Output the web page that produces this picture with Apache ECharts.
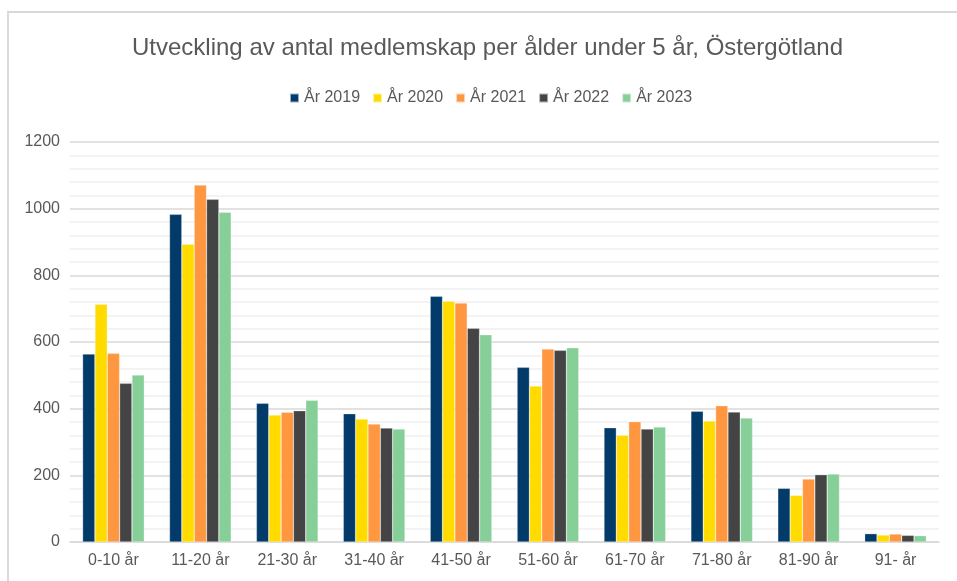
<!DOCTYPE html>
<html>
<head>
<meta charset="utf-8">
<script src="https://cdn.jsdelivr.net/npm/echarts@6/dist/echarts.min.js"></script>
<style>
  html, body { margin: 0; padding: 0; background: #fff; overflow: hidden; }
  #frame { position: absolute; left: 7px; top: 11px; width: 980px; height: 600px; border: 2px solid #D9D9D9; box-sizing: border-box; }
  #chart { position: absolute; left: 0; top: 0; width: 957px; height: 581px; }
</style>
</head>
<body>
<div id="frame"></div>
<div id="chart"></div>
<script>
// kategorier och värden
const categories = ['0-10 år', '11-20 år', '21-30 år', '31-40 år', '41-50 år', '51-60 år', '61-70 år', '71-80 år', '81-90 år', '91- år'];
const years = ['År 2019', 'År 2020', 'År 2021', 'År 2022', 'År 2023'];
const colors = ['#023B69', '#FFDB00', '#FF9640', '#444444', '#86CF98'];
const v2019 = [564, 983, 416, 385, 737, 524, 343, 392, 161, 25];
const v2020 = [713, 893, 381, 369, 722, 468, 320, 363, 140, 21];
const v2021 = [566, 1071, 389, 354, 717, 579, 361, 409, 189, 24];
const v2022 = [476, 1028, 394, 342, 641, 575, 339, 390, 202, 20];
const v2023 = [501, 989, 425, 339, 622, 583, 345, 372, 204, 19];
const values = [v2019, v2020, v2021, v2022, v2023];

const chart = echarts.init(document.getElementById('chart'));
const font = 'Arial, "Liberation Sans", sans-serif';

chart.setOption({
    animation: false,
    textStyle: { fontFamily: font },
    title: {
        text: 'Utveckling av antal medlemskap per ålder under 5 år, Östergötland',
        left: 127,
        top: 31,
        textStyle: { fontSize: 24, fontWeight: 'normal', color: '#595959', fontFamily: font }
    },
    legend: {
        data: years,
        top: 85,
        left: 284,
        itemWidth: 9,
        itemHeight: 9,
        itemGap: 12,
        icon: 'rect',
        textStyle: { fontSize: 16, color: '#595959', fontFamily: font }
    },
    grid: { left: 70, right: 18, top: 142, bottom: 39, containLabel: false },
    xAxis: {
        type: 'category',
        data: categories,
        axisTick: { show: false },
        axisLine: { lineStyle: { color: '#D9D9D9', width: 1.5 } },
        axisLabel: { fontSize: 16, color: '#595959', margin: 11, fontFamily: font }
    },
    yAxis: {
        type: 'value',
        min: 0,
        max: 1200,
        interval: 200,
        axisLine: { show: false },
        axisTick: { show: false },
        axisLabel: { fontSize: 16, color: '#595959', margin: 10, fontFamily: font, formatter: (v) => String(v) },
        splitLine: { lineStyle: { color: '#D9D9D9', width: 1.5 } },
        minorTick: { show: false, splitNumber: 5 },
        minorSplitLine: { show: true, lineStyle: { color: '#F0F0F0', width: 1.5 } }
    },
    series: years.map((name, i) => ({
        name: name,
        type: 'bar',
        data: values[i],
        barGap: '0%',
        barCategoryGap: '29%',
        itemStyle: { color: colors[i], borderColor: 'rgba(255,255,255,0.6)', borderWidth: 0.5 }
    }))
});
</script>
</body>
</html>
